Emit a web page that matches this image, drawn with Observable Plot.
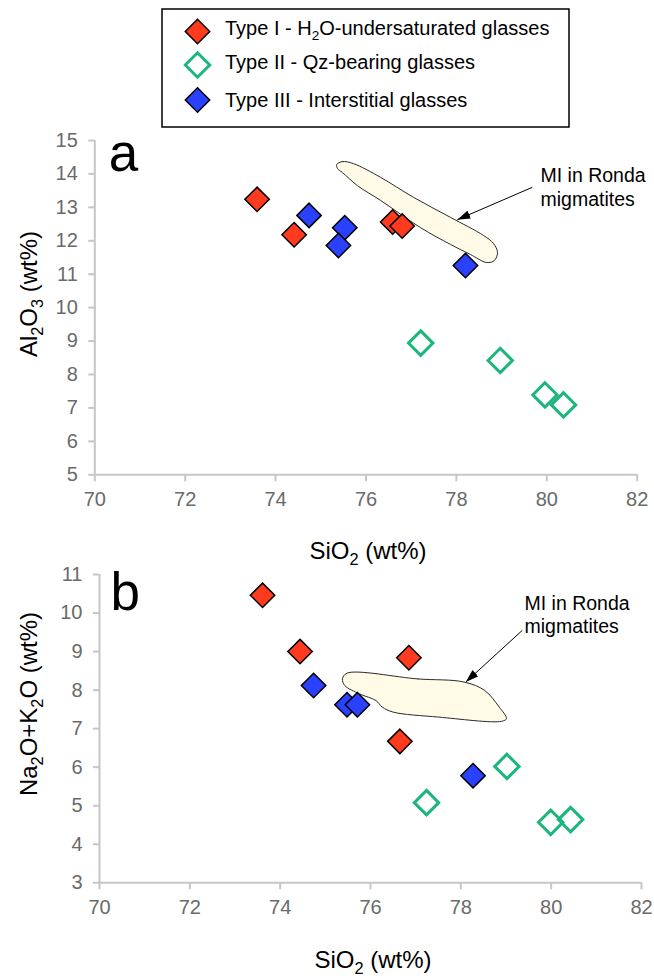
<!DOCTYPE html>
<html><head><meta charset="utf-8">
<script src="https://cdn.jsdelivr.net/npm/d3@7"></script>
<script src="https://cdn.jsdelivr.net/npm/@observablehq/plot@0.6"></script>
<style>
body{margin:0;background:#fff;}
#wrap{position:relative;width:654px;height:980px;overflow:hidden;font-family:"Liberation Sans",Arial,sans-serif;}
#wrap > svg{position:absolute;left:0;}
</style></head><body><div id="wrap"></div>
<script>
// ---------- data ----------
const xTicks = [70, 72, 74, 76, 78, 80, 82];
const yTicksA = [5, 6, 7, 8, 9, 10, 11, 12, 13, 14, 15];
const yTicksB = [3, 4, 5, 6, 7, 8, 9, 10, 11];

// panel a: SiO2 vs Al2O3
const typeI_SiO2_a = [73.59, 74.41, 76.59, 76.80];
const typeI_Al2O3 = [13.24, 12.18, 12.56, 12.44];
const typeII_SiO2_a = [77.21, 78.97, 79.96, 80.37];
const typeII_Al2O3 = [8.94, 8.42, 7.39, 7.09];
const typeIII_SiO2_a = [74.74, 75.53, 75.39, 78.20];
const typeIII_Al2O3 = [12.76, 12.39, 11.86, 11.26];

// panel b: SiO2 vs Na2O+K2O
const typeI_SiO2_b = [73.61, 74.44, 76.85, 76.65];
const typeI_alk = [10.46, 9.00, 8.84, 6.67];
const typeII_SiO2_b = [77.24, 79.02, 79.99, 80.43];
const typeII_alk = [5.08, 6.02, 4.57, 4.64];
const typeIII_SiO2_b = [74.74, 75.48, 75.71, 78.27];
const typeIII_alk = [8.12, 7.62, 7.62, 5.78];

// field of melt inclusions in Ronda migmatites (outline)
const rondaA_SiO2 = [75.35, 75.48, 75.72, 76.32, 77.05, 77.87, 78.60, 78.82, 78.91, 78.84, 78.67, 78.31, 77.87, 77.21, 76.32, 75.81, 75.48, 75.37];
const rondaA_Al2O3 = [14.28, 14.37, 14.31, 13.90, 13.30, 12.70, 12.16, 11.92, 11.65, 11.41, 11.35, 11.59, 11.89, 12.39, 13.21, 13.65, 14.04, 14.16];
const rondaB_SiO2 = [75.48, 77.05, 78.07, 78.53, 78.85, 79.01, 78.90, 77.51, 76.50, 76.26, 76.12, 75.76, 75.43, 75.38];
const rondaB_alk = [8.44, 8.29, 8.21, 7.99, 7.56, 7.26, 7.19, 7.30, 7.43, 7.56, 7.73, 7.90, 8.12, 8.29];

// annotation (arrow start/end, label)
const noteLabel = "MI in Ronda\nmigmatites";
const arrowA = {x1: 79.68, y1: 13.60, x2: 78.02, y2: 12.63};
const labelA = {x: 79.86, y: 14.25};
const arrowB = {x1: 79.36, y1: 9.55, x2: 78.11, y2: 8.21};
const labelB = {x: 79.41, y: 10.51};

const seriesNames = ["Type I - H2O-undersaturated glasses", "Type II - Qz-bearing glasses", "Type III - Interstitial glasses"];
const colors = {I: "#ff3a1f", II: "#1bb67c", III: "#2a42ff"};

// ---------- helpers ----------
const zip = (xs, ys) => xs.map((x, i) => ({x, y: ys[i]}));
const FONT = "'Liberation Sans', Arial, sans-serif";

function panel({height, mt, mb, ml, mr, yDomain, yTicks, I, II, III, field, arrow, label, letter, letterDx, letterDy}) {
  return Plot.plot({
    width: 654, height,
    marginTop: mt, marginBottom: mb, marginLeft: ml, marginRight: mr,
    style: {background: "transparent", overflow: "visible", fontFamily: FONT},
    x: {domain: [70, 82], label: null},
    y: {domain: yDomain, label: null},
    marks: [
      Plot.axisX({ticks: xTicks, tickSize: 7, tickPadding: 10, stroke: "#c6c6c6", strokeWidth: 2, fill: "#6a6a6a", fontSize: 20, label: null}),
      Plot.axisY({ticks: yTicks, tickSize: 6, tickPadding: 11, stroke: "#c6c6c6", strokeWidth: 2, fill: "#6a6a6a", fontSize: 20, label: null}),
      Plot.ruleX([70], {stroke: "#c6c6c6", strokeWidth: 2}),
      Plot.ruleY([yDomain[0]], {stroke: "#c6c6c6", strokeWidth: 2}),
      Plot.line(field, {x: "x", y: "y", curve: "catmull-rom-closed", fill: "#fffbe6", stroke: "#2a2a2a", strokeWidth: 1}),
      Plot.link([arrow], {x1: "x1", y1: "y1", x2: "x2", y2: "y2", stroke: "#000", strokeWidth: 1}),
      Plot.text([label], {x: "x", y: "y", text: () => noteLabel, fontSize: 19.5, textAnchor: "start", lineAnchor: "top", lineHeight: 1.2, fill: "#000"}),
      Plot.text([letter], {text: d => d, frameAnchor: "top-left", dx: letterDx, dy: letterDy, fontSize: 53, textAnchor: "start", lineAnchor: "top", fill: "#000"}),
      Plot.dot(I, {x: "x", y: "y", symbol: "diamond2", r: 11, fill: colors.I, stroke: "#000", strokeWidth: 1.5}),
      Plot.dot(II, {x: "x", y: "y", symbol: "diamond2", r: 11, fill: "none", stroke: colors.II, strokeWidth: 3}),
      Plot.dot(III, {x: "x", y: "y", symbol: "diamond2", r: 11, fill: colors.III, stroke: "#000", strokeWidth: 1.5})
    ]
  });
}

function arrowHead(svg, id) {
  const s = d3.select(svg);
  const defs = s.insert("defs", ":first-child");
  defs.append("marker").attr("id", id).attr("viewBox", "0 0 12 8").attr("refX", 12).attr("refY", 4)
    .attr("markerWidth", 13).attr("markerHeight", 9).attr("markerUnits", "userSpaceOnUse").attr("orient", "auto")
    .append("path").attr("d", "M0,0L12,4L0,8Z").attr("fill", "#000");
  s.selectAll('g[aria-label="link"] path').attr("marker-end", `url(#${id})`);
}

// parts: array of [text, isSub]
function richText(sel, parts, size) {
  let shifted = false;
  parts.forEach(([t, sub]) => {
    const ts = sel.append("tspan").text(t);
    if (sub && !shifted) { ts.attr("dy", size * 0.26).attr("font-size", size * 0.68); shifted = true; }
    else if (sub) { ts.attr("font-size", size * 0.68); }
    else if (shifted) { ts.attr("dy", -size * 0.26); shifted = false; }
  });
}
function xTitle(svg, cx, y) {
  const t = d3.select(svg).append("text").attr("x", cx).attr("y", y).attr("text-anchor", "middle")
    .attr("font-size", 24).attr("fill", "#000").attr("font-family", FONT);
  richText(t, [["SiO", false], ["2", true], [" (wt%)", false]], 24);
}
function yTitle(svg, x, cy, parts) {
  const t = d3.select(svg).append("text").attr("transform", `translate(${x},${cy}) rotate(-90)`).attr("text-anchor", "middle")
    .attr("font-size", 24).attr("fill", "#000").attr("font-family", FONT);
  richText(t, parts, 24);
}

// ---------- panel a ----------
const svgA = panel({
  height: 580, mt: 140, mb: 105.7, ml: 94.3, mr: 17.3,
  yDomain: [5, 15], yTicks: yTicksA,
  I: zip(typeI_SiO2_a, typeI_Al2O3), II: zip(typeII_SiO2_a, typeII_Al2O3), III: zip(typeIII_SiO2_a, typeIII_Al2O3),
  field: zip(rondaA_SiO2, rondaA_Al2O3), arrow: arrowA, label: labelA,
  letter: "a", letterDx: 14, letterDy: -7
});
arrowHead(svgA, "ahA");
xTitle(svgA, 368, 559);
yTitle(svgA, 37, 294, [["Al", false], ["2", true], ["O", false], ["3", true], [" (wt%)", false]]);
svgA.style.top = "0px";

// ---------- panel b ----------
const svgB = panel({
  height: 440, mt: 34, mb: 97.7, ml: 99, mr: 13,
  yDomain: [3, 11], yTicks: yTicksB,
  I: zip(typeI_SiO2_b, typeI_alk), II: zip(typeII_SiO2_b, typeII_alk), III: zip(typeIII_SiO2_b, typeIII_alk),
  field: zip(rondaB_SiO2, rondaB_alk), arrow: arrowB, label: labelB,
  letter: "b", letterDx: 11, letterDy: -2
});
arrowHead(svgB, "ahB");
xTitle(svgB, 373, 428);
yTitle(svgB, 37, 704 - 540, [["Na", false], ["2", true], ["O+K", false], ["2", true], ["O (wt%)", false]]);
svgB.style.top = "540px";

const wrap = document.getElementById("wrap");
wrap.appendChild(svgA);
wrap.appendChild(svgB);

// ---------- legend ----------
const leg = d3.select(wrap).append("svg").attr("width", 654).attr("height", 135)
  .style("position", "absolute").style("left", "0px").style("top", "0px").attr("font-family", FONT);
leg.append("rect").attr("x", 162).attr("y", 9).attr("width", 407).attr("height", 118)
  .attr("fill", "#fff").attr("stroke", "#000").attr("stroke-width", 1.5);
const legRows = [
  {parts: [["Type I - H", false], ["2", true], ["O-undersaturated glasses", false]], fill: colors.I, stroke: "#000", sw: 1.5, cy: 31.5, base: 35},
  {parts: [["Type II - Qz-bearing glasses", false]], fill: "none", stroke: colors.II, sw: 3, cy: 65, base: 68.5},
  {parts: [["Type III - Interstitial glasses", false]], fill: colors.III, stroke: "#000", sw: 1.5, cy: 100, base: 106.5}
];
legRows.forEach((r, i) => {
  leg.append("path").attr("d", d3.symbol(d3.symbolDiamond2, 11 * 11 * Math.PI)())
    .attr("transform", `translate(197.5,${r.cy})`).attr("fill", r.fill).attr("stroke", r.stroke).attr("stroke-width", r.sw);
  const t = leg.append("text").attr("x", 225).attr("y", r.base).attr("font-size", 20).attr("fill", "#000");
  t.append("title").text(seriesNames[i]);
  richText(t, r.parts, 20);
});
</script>
</body></html>
